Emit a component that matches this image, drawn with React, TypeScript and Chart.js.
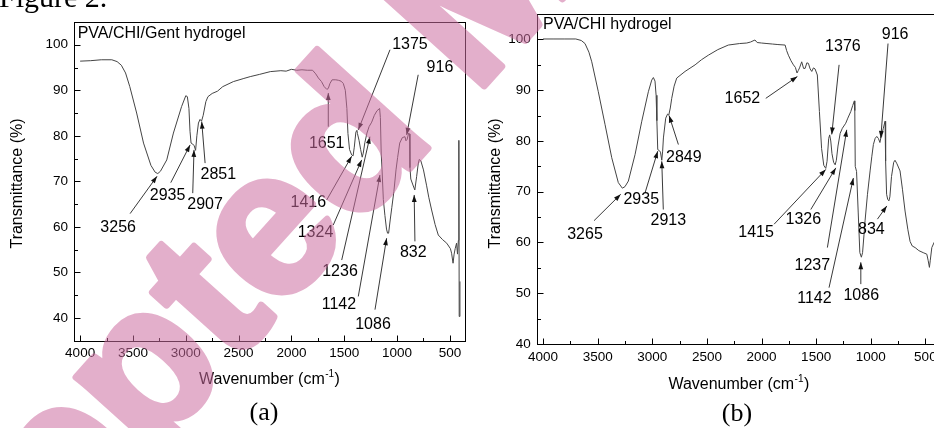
import { useEffect, useRef } from 'react';
import { Chart, registerables } from 'chart.js';

Chart.register(...registerables);

// ---------- data ----------
const WN_A = [4000, 3900, 3800, 3700, 3650, 3610, 3570, 3530, 3465, 3400, 3330, 3290, 3265, 3240, 3180, 3117, 3040, 3000, 2985, 2970, 2960, 2950, 2935, 2920, 2907, 2895, 2880, 2865, 2851, 2835, 2810, 2790, 2750, 2700, 2650, 2550, 2450, 2390, 2300, 2200, 2100, 2050, 2000, 1950, 1900, 1850, 1800, 1770, 1745, 1715, 1690, 1665, 1651, 1635, 1615, 1580, 1556, 1530, 1509, 1490, 1475, 1465, 1450, 1430, 1416, 1405, 1390, 1380, 1375, 1360, 1345, 1330, 1320, 1305, 1285, 1265, 1240, 1215, 1190, 1165, 1158, 1150, 1142, 1130, 1115, 1100, 1090, 1080, 1065, 1050, 1030, 1010, 995, 975, 950, 925, 916, 905, 890, 882, 878, 870, 850, 832, 815, 800, 790, 775, 750, 720, 700, 673, 640, 610, 570, 530, 495, 484, 470, 460, 450, 437, 428, 420, 415, 412, 405];
const T_A = [96.4, 96.5, 96.7, 96.7, 96.3, 95.5, 93.8, 90.8, 85.0, 78.4, 73.5, 72.0, 71.7, 72.2, 74.7, 80.6, 86.4, 88.8, 88.6, 86.0, 81.0, 78.4, 78.2, 77.8, 76.8, 80.0, 82.8, 83.6, 83.2, 84.5, 87.5, 88.6, 89.3, 89.8, 90.8, 91.9, 92.6, 93.0, 93.5, 94.1, 94.3, 94.2, 94.6, 94.4, 94.5, 94.4, 94.4, 93.6, 92.7, 91.9, 90.8, 90.2, 90.4, 91.5, 92.3, 92.3, 92.2, 92.0, 91.5, 90.0, 86.0, 80.5, 77.0, 75.8, 75.6, 77.5, 80.8, 81.2, 80.5, 79.0, 77.0, 75.3, 76.2, 78.5, 80.6, 82.0, 83.0, 84.5, 85.5, 86.0, 84.0, 76.0, 72.5, 66.0, 62.5, 59.5, 58.6, 58.6, 61.5, 64.2, 67.8, 72.5, 75.2, 78.4, 79.6, 79.8, 78.9, 79.2, 80.6, 80.4, 73.0, 70.5, 69.2, 68.1, 71.0, 73.8, 74.8, 74.5, 72.5, 69.0, 66.5, 63.7, 60.5, 58.2, 57.2, 56.4, 55.2, 54.2, 52.0, 54.0, 55.2, 56.4, 54.0, 57.0, 79.0, 40.3, 48.0];

const WN_B = [4000, 3900, 3800, 3700, 3650, 3616, 3580, 3554, 3494, 3432, 3371, 3311, 3274, 3250, 3219, 3158, 3096, 3036, 3005, 2990, 2975, 2965, 2958, 2950, 2935, 2925, 2913, 2905, 2898, 2877, 2860, 2849, 2835, 2822, 2800, 2776, 2700, 2608, 2550, 2487, 2400, 2304, 2200, 2135, 2100, 2060, 2040, 2000, 1950, 1900, 1850, 1784, 1770, 1754, 1730, 1708, 1690, 1675, 1663, 1652, 1632, 1615, 1601, 1585, 1571, 1555, 1540, 1525, 1510, 1489, 1470, 1450, 1430, 1412, 1400, 1385, 1376, 1366, 1355, 1340, 1326, 1315, 1300, 1280, 1260, 1229, 1210, 1183, 1165, 1150, 1146, 1142, 1130, 1115, 1100, 1086, 1075, 1062, 1052, 1030, 1006, 990, 976, 960, 945, 930, 916, 905, 899, 885, 869, 864, 855, 845, 834, 825, 810, 790, 778, 760, 732, 710, 686, 660, 640, 620, 594, 560, 520, 487, 475, 463, 455, 441, 420, 400];
const T_B = [100.1, 100.1, 100.1, 100.1, 99.8, 99.2, 97.5, 95.6, 89.7, 83.2, 76.7, 71.8, 70.7, 71.0, 72.1, 77.3, 83.9, 89.7, 92.0, 92.5, 91.8, 89.0, 84.0, 78.3, 78.1, 77.8, 76.2, 78.0, 80.6, 84.5, 85.3, 85.1, 86.5, 88.4, 90.8, 92.4, 93.7, 95.0, 96.0, 96.9, 98.0, 98.9, 99.2, 99.3, 99.5, 99.9, 99.4, 99.3, 99.2, 99.1, 99.0, 98.9, 97.8, 96.9, 95.8, 95.0, 94.5, 93.4, 93.9, 94.4, 95.6, 94.3, 94.3, 95.4, 95.3, 94.2, 93.7, 94.4, 94.2, 93.0, 85.8, 78.5, 75.2, 74.6, 76.0, 80.5, 81.2, 80.0, 77.5, 75.8, 75.3, 76.2, 79.0, 81.5, 82.5, 83.5, 84.5, 85.8, 87.0, 87.9, 86.0, 75.0, 74.0, 66.0, 58.0, 57.1, 58.0, 61.5, 64.3, 69.5, 74.1, 77.0, 79.3, 80.5, 80.9, 80.5, 79.7, 80.9, 81.3, 82.5, 83.9, 76.0, 69.5, 68.5, 68.2, 69.0, 73.0, 75.8, 76.2, 75.5, 74.1, 70.5, 66.2, 62.5, 60.2, 59.3, 59.0, 58.4, 58.0, 57.7, 56.5, 55.1, 56.5, 59.0, 60.0, 59.0];

const X_TICKS = [500, 1000, 1500, 2000, 2500, 3000, 3500, 4000];
const X_MINOR = [750, 1250, 1750, 2250, 2750, 3250, 3750];
const Y_TICKS = [40, 50, 60, 70, 80, 90, 100];
const Y_MINOR = [45, 55, 65, 75, 85, 95];

const TITLE_A = 'PVA/CHI/Gent hydrogel';
const TITLE_B = 'PVA/CHI hydrogel';
const Y_TITLE = 'Transmittance (%)';
const X_TITLE = 'Wavenumber (cm';
const X_TITLE_SUP = '-1';

// [label, labelWn, labelT, tailWn, tailT, tipWn, tipT]
type Annot = [string, number, number, number, number, number, number];
const ANNOT_A: Annot[] = [
  ['3256', 3640, 59.9, 3527, 62.9, 3272, 71.1],
  ['2935', 3172, 66.8, 3142, 69.7, 2959, 78.0],
  ['2907', 2817, 64.8, 2934, 67.4, 2922, 76.9],
  ['2851', 2692, 71.4, 2817, 74.0, 2849, 83.1],
  ['1651', 1666, 78.2, 1651, 82.0, 1651, 89.4],
  ['1375', 878, 100.0, 1067, 98.9, 1367, 81.3],
  ['916', 594, 94.9, 800, 93.4, 909, 80.2],
  ['1416', 1840, 65.3, 1666, 65.9, 1430, 75.5],
  ['1324', 1772, 58.7, 1604, 60.4, 1335, 74.7],
  ['1236', 1540, 50.2, 1524, 52.7, 1257, 79.8],
  ['1142', 1550, 43.0, 1367, 44.7, 1162, 71.4],
  ['1086', 1228, 38.5, 1209, 41.8, 1099, 57.5],
  ['832', 847, 54.4, 831, 56.8, 838, 67.0],
];
const ANNOT_B: Annot[] = [
  ['3265', 3616, 61.6, 3533, 64.3, 3289, 69.5],
  ['2935', 3101, 68.5, 3066, 69.8, 2950, 78.0],
  ['2913', 2853, 64.3, 2899, 66.5, 2913, 76.0],
  ['2849', 2711, 76.7, 2761, 79.3, 2846, 85.0],
  ['1652', 2175, 88.3, 1961, 88.4, 1672, 92.7],
  ['1376', 1255, 98.6, 1290, 95.0, 1357, 81.3],
  ['916', 777, 100.9, 842, 99.2, 908, 80.6],
  ['1415', 2050, 62.0, 1885, 63.6, 1412, 74.4],
  ['1326', 1617, 64.6, 1549, 66.5, 1320, 74.7],
  ['1237', 1535, 55.4, 1397, 59.0, 1220, 82.2],
  ['1142', 1516, 48.9, 1382, 51.1, 1159, 72.7],
  ['1086', 1087, 49.5, 1091, 51.8, 1091, 56.1],
  ['834', 994, 62.6, 939, 64.6, 853, 67.2],
];

// ---------- layout ----------
const SANS = '"Liberation Sans", Arial, sans-serif';
const SERIF = '"Liberation Serif", "Times New Roman", serif';
const X_MIN = 357;
const X_MAX = 4058;

type Panel = {
  left: number; width: number; height: number;
  plotLeft: number; plotTop: number; plotRight: number; plotBottom: number;
  yMin: number; yMax: number;
  titleX: number; titleY: number; yTitleX: number; yTitleY: number; xTitleDy: number;
};
const PANEL_A: Panel = {
  left: 0, width: 470, height: 400,
  plotLeft: 74, plotTop: 22, plotRight: 465, plotBottom: 340.6,
  yMin: 35, yMax: 105,
  titleX: 77.7, titleY: 33.3, yTitleX: 18, yTitleY: 183.5, xTitleDy: 39.4,
};
const PANEL_B: Panel = {
  left: 470, width: 490, height: 400,
  plotLeft: 66.7, plotTop: 12.3, plotRight: 471, plotBottom: 344,
  yMin: 40, yMax: 105,
  titleX: 73, titleY: 25, yTitleX: 25.5, yTitleY: 183.5, xTitleDy: 41,
};

function decoPlugin(p: Panel, title: string, annots: Annot[]) {
  return {
    id: 'deco',
    afterDraw(chart: any) {
      const { ctx, chartArea: a, scales } = chart;
      const xs = scales.x;
      const ys = scales.y;
      ctx.save();
      ctx.strokeStyle = '#000';
      ctx.lineWidth = 1;
      const L = Math.round(a.left) + 0.5;
      const T = Math.round(a.top) + 0.5;
      const R = Math.round(a.right) + 0.5;
      const B = Math.round(a.bottom) + 0.5;
      ctx.strokeRect(L, T, R - L, B - T);
      ctx.beginPath();
      for (const v of X_TICKS) {
        const x = Math.round(xs.getPixelForValue(v)) + 0.5;
        ctx.moveTo(x, B); ctx.lineTo(x, B - 6);
      }
      for (const v of X_MINOR) {
        const x = Math.round(xs.getPixelForValue(v)) + 0.5;
        ctx.moveTo(x, B); ctx.lineTo(x, B - 3.5);
      }
      for (const v of Y_TICKS) {
        const y = Math.round(ys.getPixelForValue(v)) + 0.5;
        ctx.moveTo(L, y); ctx.lineTo(L + 6, y);
      }
      for (const v of Y_MINOR) {
        const y = Math.round(ys.getPixelForValue(v)) + 0.5;
        ctx.moveTo(L, y); ctx.lineTo(L + 3.5, y);
      }
      ctx.stroke();

      ctx.fillStyle = '#000';
      ctx.font = `16px ${SANS}`;
      ctx.textBaseline = 'middle';
      ctx.textAlign = 'left';
      ctx.fillText(title, p.titleX, p.titleY);

      ctx.save();
      ctx.translate(p.yTitleX, p.yTitleY);
      ctx.rotate(-Math.PI / 2);
      ctx.textAlign = 'center';
      ctx.fillText(Y_TITLE, 0, 0);
      ctx.restore();

      // x title with superscript
      const cx = (a.left + a.right) / 2;
      const cy = a.bottom + p.xTitleDy;
      ctx.font = `16px ${SANS}`;
      const w1 = ctx.measureText(X_TITLE).width;
      const w3 = ctx.measureText(')').width;
      ctx.font = `10px ${SANS}`;
      const w2 = ctx.measureText(X_TITLE_SUP).width;
      let sx = cx - (w1 + w2 + w3 + 1) / 2;
      ctx.textAlign = 'left';
      ctx.font = `16px ${SANS}`;
      ctx.fillText(X_TITLE, sx, cy);
      sx += w1 + 0.5;
      ctx.font = `10px ${SANS}`;
      ctx.fillText(X_TITLE_SUP, sx, cy - 6);
      sx += w2 + 0.5;
      ctx.font = `16px ${SANS}`;
      ctx.fillText(')', sx, cy);

      // annotations
      ctx.strokeStyle = '#222';
      ctx.lineWidth = 0.9;
      for (const [lab, lw, lt, tw, tt, hw, ht] of annots) {
        const x0 = xs.getPixelForValue(tw);
        const y0 = ys.getPixelForValue(tt);
        const x1 = xs.getPixelForValue(hw);
        const y1 = ys.getPixelForValue(ht);
        ctx.beginPath();
        ctx.moveTo(x0, y0);
        ctx.lineTo(x1, y1);
        ctx.stroke();
        const ang = Math.atan2(y1 - y0, x1 - x0);
        const len = 7;
        const hw2 = 2.4;
        const bx = x1 - len * Math.cos(ang);
        const by = y1 - len * Math.sin(ang);
        ctx.fillStyle = '#111';
        ctx.beginPath();
        ctx.moveTo(x1, y1);
        ctx.lineTo(bx - hw2 * Math.sin(ang), by + hw2 * Math.cos(ang));
        ctx.lineTo(bx + hw2 * Math.sin(ang), by - hw2 * Math.cos(ang));
        ctx.closePath();
        ctx.fill();
        ctx.font = `16px ${SANS}`;
        ctx.textAlign = 'center';
        ctx.textBaseline = 'middle';
        ctx.fillStyle = '#000';
        ctx.fillText(lab, xs.getPixelForValue(lw), ys.getPixelForValue(lt));
      }
      ctx.restore();
    },
  };
}

function SpectrumChart({ p, wn, t, title, annots }: { p: Panel; wn: number[]; t: number[]; title: string; annots: Annot[] }) {
  const ref = useRef<HTMLCanvasElement | null>(null);
  useEffect(() => {
    const canvas = ref.current;
    if (!canvas) return;
    const tickFont = { family: SANS, size: 13.5 };
    const chart = new Chart(canvas, {
      type: 'line',
      data: {
        datasets: [
          {
            data: wn.map((x, i) => ({ x, y: t[i] })),
            borderColor: '#444',
            borderWidth: 1,
            pointRadius: 0,
            tension: 0,
            fill: false,
          },
        ],
      },
      options: {
        responsive: false,
        animation: false,
        events: [],
        layout: { padding: { left: 0, top: p.plotTop, right: p.width - p.plotRight, bottom: 0 } },
        plugins: { legend: { display: false }, tooltip: { enabled: false }, title: { display: false } },
        scales: {
          x: {
            type: 'linear',
            min: X_MIN,
            max: X_MAX,
            reverse: true,
            grid: { display: false, drawTicks: false },
            border: { display: false },
            ticks: { font: tickFont, color: '#000', padding: 5, maxRotation: 0, autoSkip: false, callback: (v: any) => String(v) },
            afterBuildTicks: (s: any) => { s.ticks = X_TICKS.map((v) => ({ value: v })); },
            afterFit: (s: any) => { s.height = p.height - p.plotBottom; },
          },
          y: {
            type: 'linear',
            min: p.yMin,
            max: p.yMax,
            grid: { display: false, drawTicks: false },
            border: { display: false },
            ticks: { font: tickFont, color: '#000', padding: 6, autoSkip: false, callback: (v: any) => String(v) },
            afterBuildTicks: (s: any) => { s.ticks = Y_TICKS.map((v) => ({ value: v })); },
            afterFit: (s: any) => { s.width = p.plotLeft; },
          },
        },
      } as any,
      plugins: [decoPlugin(p, title, annots)],
    });
    return () => chart.destroy();
  }, [p, wn, t, title, annots]);
  return (
    <canvas
      ref={ref}
      width={p.width}
      height={p.height}
      style={{ position: 'absolute', left: p.left, top: 0, width: p.width, height: p.height }}
    />
  );
}

function Overlay() {
  const ref = useRef<HTMLCanvasElement | null>(null);
  useEffect(() => {
    const c = ref.current;
    if (!c) return;
    const ctx = c.getContext('2d');
    if (!ctx) return;
    ctx.clearRect(0, 0, 934, 428);
    ctx.fillStyle = '#000';
    ctx.textBaseline = 'alphabetic';
    ctx.textAlign = 'left';
    ctx.font = `30px ${SERIF}`;
    ctx.fillText('Figure 2.', -1, 7);
    ctx.font = `26px ${SERIF}`;
    ctx.textAlign = 'center';
    ctx.fillText('(a)', 264, 420);
    ctx.fillText('(b)', 737, 421);

    // watermark drawn opaque off-screen, then composited translucently
    const off = document.createElement('canvas');
    off.width = 934;
    off.height = 428;
    const o = off.getContext('2d');
    if (o) {
      const em = 205;
      o.font = `bold ${em}px ${SANS}`;
      const pre = o.measureText('Accepte').width;
      const th = (-48 * Math.PI) / 180;
      const lx = pre + 0.28 * em;
      const ly = -0.26 * em;
      const cos = Math.cos(th);
      const sin = Math.sin(th);
      const ox = 352 - (lx * cos - ly * sin);
      const oy = 153 - (lx * sin + ly * cos);
      o.translate(ox, oy);
      o.rotate(th);
      o.textAlign = 'left';
      o.textBaseline = 'alphabetic';
      o.fillStyle = 'rgb(205,110,160)';
      o.strokeStyle = 'rgb(205,110,160)';
      o.lineWidth = 7;
      o.lineJoin = 'round';
      o.fillText('Accepted Manuscript', 0, 0);
      o.strokeText('Accepted Manuscript', 0, 0);
      ctx.save();
      ctx.globalAlpha = 0.55;
      ctx.drawImage(off, 0, 0);
      ctx.restore();
    }
  }, []);
  return (
    <canvas
      ref={ref}
      width={934}
      height={428}
      style={{ position: 'absolute', left: 0, top: 0, width: 934, height: 428, pointerEvents: 'none' }}
    />
  );
}

export default function App() {
  return (
    <div style={{ position: 'absolute', left: 0, top: 0, width: 934, height: 428, overflow: 'hidden', background: '#fff' }}>
      <SpectrumChart p={PANEL_A} wn={WN_A} t={T_A} title={TITLE_A} annots={ANNOT_A} />
      <SpectrumChart p={PANEL_B} wn={WN_B} t={T_B} title={TITLE_B} annots={ANNOT_B} />
      <Overlay />
    </div>
  );
}
